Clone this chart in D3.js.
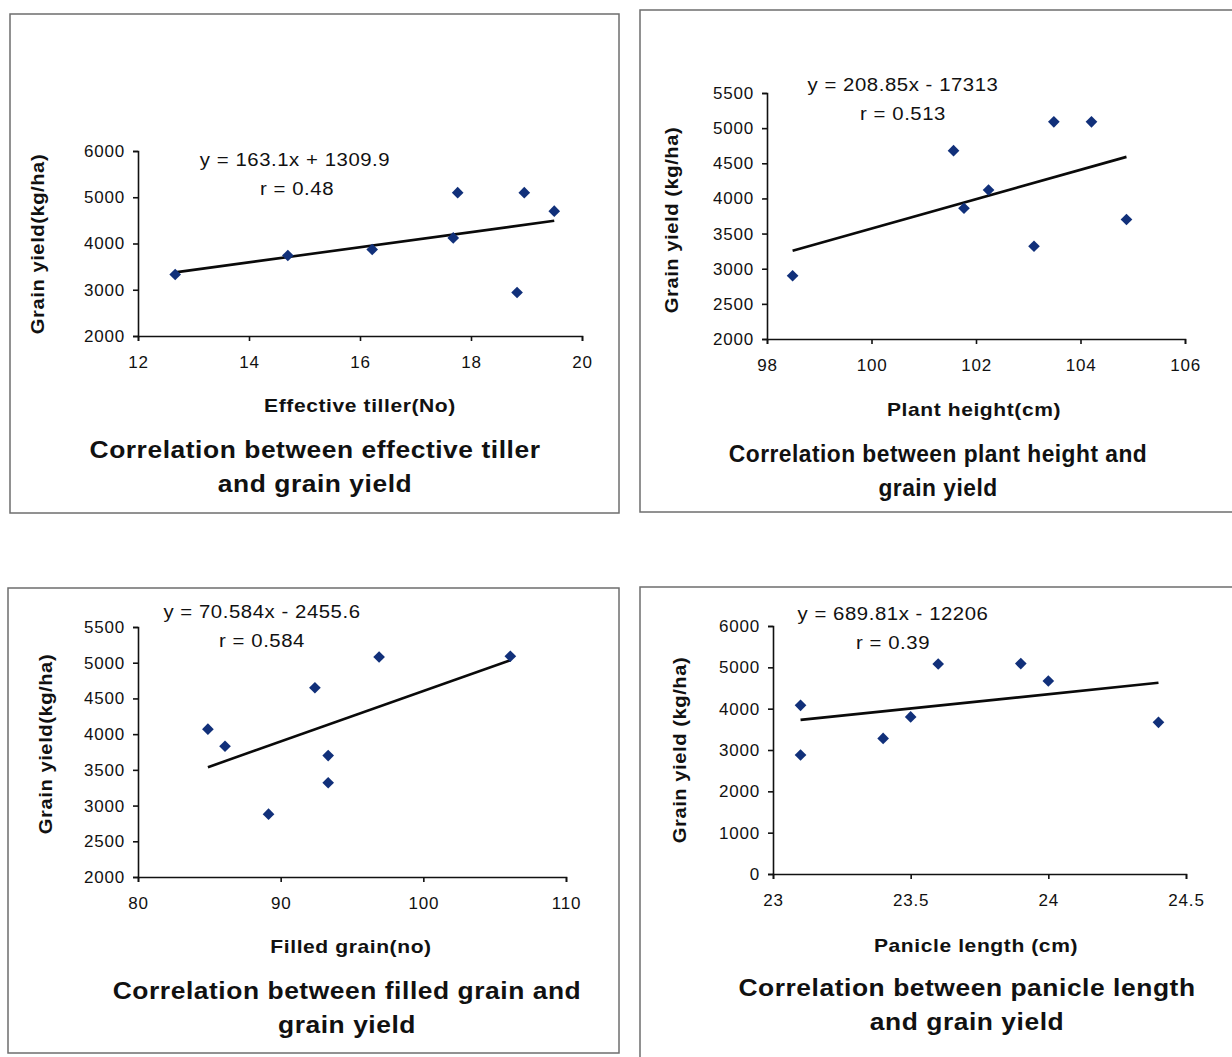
<!DOCTYPE html>
<meta charset="utf-8">
<script src="https://d3js.org/d3.v7.min.js"></script>
<style>
  body { margin: 0; background: #fff; }
  text { font-family: "Liberation Sans", Arial, sans-serif; fill: #111; }
</style>
<div id="chart"></div>
<script>
// data
const tillerX   = [12.67, 14.70, 16.22, 17.68, 17.76, 18.96, 18.83, 19.50];
const tillerY   = [3330, 3740, 3870, 4120, 5100, 5100, 2940, 4700];
const heightX   = [98.49, 101.57, 101.77, 102.24, 103.11, 103.49, 104.21, 104.88];
const heightY   = [2900, 4680, 3860, 4120, 3320, 5090, 5090, 3700];
const grainX    = [84.9, 86.1, 89.15, 92.4, 93.33, 93.33, 96.9, 106.1];
const grainY    = [4070, 3830, 2880, 4650, 3700, 3320, 5080, 5090];
const panicleX  = [23.1, 23.1, 23.4, 23.5, 23.6, 23.9, 24.0, 24.4];
const panicleY  = [4080, 2880, 3280, 3800, 5080, 5090, 4670, 3670];

// trend lines (slope, intercept) and labels
const slopes     = [163.1, 208.85, 70.584, 689.81];
const intercepts = [1309.9, -17313, -2455.6, -12206];
const equations  = ["y = 163.1x + 1309.9", "y = 208.85x - 17313", "y = 70.584x - 2455.6", "y = 689.81x - 12206"];
const rLabels    = ["r = 0.48", "r = 0.513", "r = 0.584", "r = 0.39"];
const xTitles    = ["Effective tiller(No)", "Plant height(cm)", "Filled grain(no)", "Panicle length (cm)"];
const yTitles    = ["Grain yield(kg/ha)", "Grain yield (kg/ha)", "Grain yield(kg/ha)", "Grain yield (kg/ha)"];
const titles     = [
  ["Correlation between effective tiller", "and grain yield"],
  ["Correlation between plant height and", "grain yield"],
  ["Correlation between filled grain and", "grain yield"],
  ["Correlation between panicle length", "and grain yield"]
];
const xTickVals = [[12, 14, 16, 18, 20], [98, 100, 102, 104, 106], [80, 90, 100, 110], [23, 23.5, 24, 24.5]];
const yTickVals = [
  [2000, 3000, 4000, 5000, 6000],
  [2000, 2500, 3000, 3500, 4000, 4500, 5000, 5500],
  [2000, 2500, 3000, 3500, 4000, 4500, 5000, 5500],
  [0, 1000, 2000, 3000, 4000, 5000, 6000]
];
const xs = [tillerX, heightX, grainX, panicleX];
const ys = [tillerY, heightY, grainY, panicleY];

// layout of each panel on the page
const layout = [
  {box: [10, 14, 619, 513],  px: [138, 582], py: [336, 151], eq: [295, 160], r: [297, 189], yl: [38, 244],  xt: [360, 406], t: [315, 449], ts: 1.1},
  {box: [640, 10, 1240, 512], px: [767, 1185], py: [339, 93], eq: [903, 85],  r: [903, 114], yl: [672, 220], xt: [974, 410], t: [938, 454], ts: 0.95},
  {box: [8, 588, 619, 1053], px: [138, 566], py: [877, 627], eq: [262, 612], r: [262, 641], yl: [46, 744],  xt: [351, 947], t: [347, 990], ts: 1.1},
  {box: [640, 587, 1240, 1062], px: [773, 1186], py: [874, 626], eq: [893, 614], r: [893, 643], yl: [680, 750], xt: [976, 946], t: [967, 987], ts: 1.1}
];

const svg = d3.select("#chart").append("svg")
  .attr("width", 1232)
  .attr("height", 1057);

// the scanned text is a bit wider than Arial, so stretch it horizontally
function label(g, txt, cx, cy, size, bold, sx, rot) {
  return g.append("text")
    .attr("transform", `translate(${cx},${cy})${rot ? " rotate(-90)" : ""} scale(${sx},1)`)
    .attr("text-anchor", "middle").attr("dominant-baseline", "central")
    .style("font-size", size + "px")
    .style("font-weight", bold ? "bold" : "normal")
    .style("letter-spacing", "0.5px")
    .text(txt);
}

layout.forEach((L, i) => {
  const g = svg.append("g");

  // panel frame
  g.append("rect")
    .attr("x", L.box[0]).attr("y", L.box[1])
    .attr("width", L.box[2] - L.box[0]).attr("height", L.box[3] - L.box[1])
    .attr("fill", "none").attr("stroke", "#6e6e6e").attr("stroke-width", 1.5);

  const xt = xTickVals[i], yt = yTickVals[i];
  const x = d3.scaleLinear().domain([xt[0], xt[xt.length - 1]]).range(L.px);
  const y = d3.scaleLinear().domain([yt[0], yt[yt.length - 1]]).range(L.py);

  const xAxis = g.append("g")
    .attr("transform", `translate(0,${L.py[0]})`)
    .call(d3.axisBottom(x).tickValues(xt).tickFormat(d => String(d)).tickSize(5).tickSizeOuter(5).tickPadding(15));
  const yAxis = g.append("g")
    .attr("transform", `translate(${L.px[0]},0)`)
    .call(d3.axisLeft(y).tickValues(yt).tickFormat(d => String(d)).tickSize(5).tickSizeOuter(5).tickPadding(8));
  [xAxis, yAxis].forEach(a => {
    a.selectAll("path, line").attr("stroke", "#111").attr("stroke-width", 1.6);
    a.selectAll("text").style("font-size", "17px").style("letter-spacing", "0.8px").attr("fill", "#111");
  });

  // trend line over the observed x range
  const xr = d3.extent(xs[i]);
  g.append("line")
    .attr("x1", x(xr[0])).attr("y1", y(slopes[i] * xr[0] + intercepts[i]))
    .attr("x2", x(xr[1])).attr("y2", y(slopes[i] * xr[1] + intercepts[i]))
    .attr("stroke", "#0a0a0a").attr("stroke-width", 2.6);

  // diamond markers
  g.append("g").selectAll("path")
    .data(xs[i].map((v, k) => [v, ys[i][k]]))
    .join("path")
      .attr("d", d3.symbol(d3.symbolSquare, 68))
      .attr("transform", d => `translate(${x(d[0])},${y(d[1])}) rotate(45)`)
      .attr("fill", "#11307a");

  // labels
  label(g, equations[i], L.eq[0], L.eq[1], 18, false, 1.13);
  label(g, rLabels[i], L.r[0], L.r[1], 18, false, 1.13);
  label(g, yTitles[i], L.yl[0], L.yl[1], 18, true, 1.12, true);
  label(g, xTitles[i], L.xt[0], L.xt[1], 18, true, 1.17);
  titles[i].forEach((line, k) => label(g, line, L.t[0], L.t[1] + k * 34, 24, true, L.ts));
});
</script>
